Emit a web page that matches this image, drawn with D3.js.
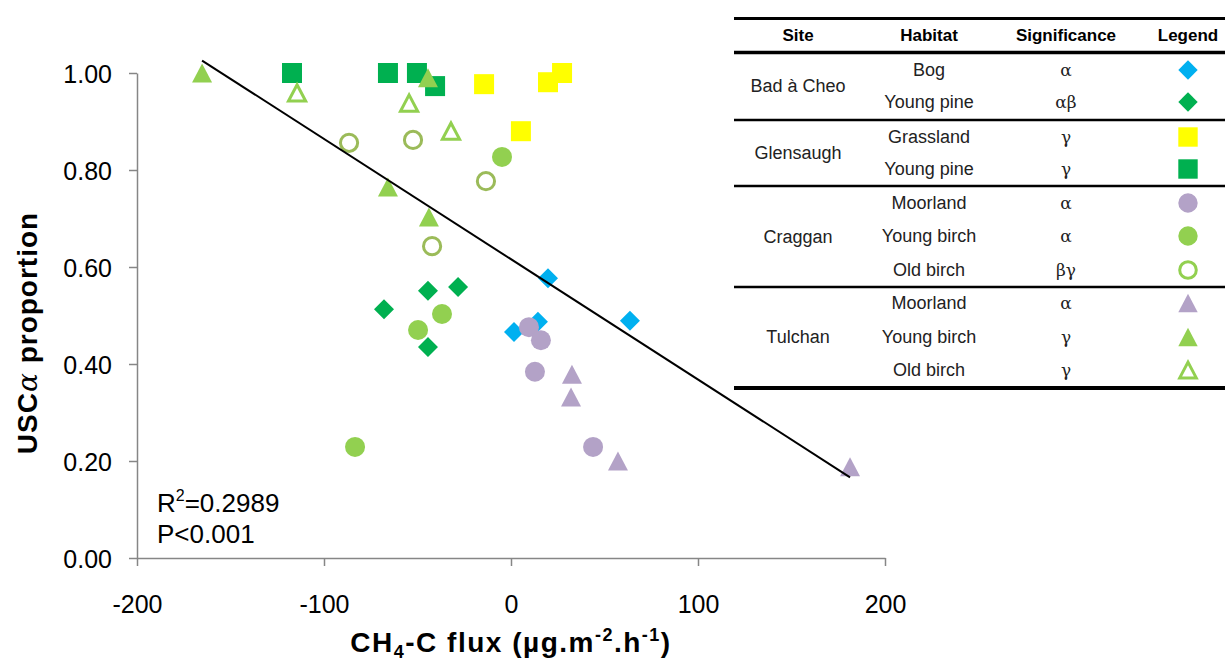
<!DOCTYPE html>
<html>
<head>
<meta charset="utf-8">
<script src="https://cdn.jsdelivr.net/npm/d3@7"></script>
<style>
  html, body { margin: 0; padding: 0; background: #fff; }
  svg { display: block; font-family: "Liberation Sans", Arial, sans-serif; }
</style>
</head>
<body>
<svg id="chart" width="1225" height="662"></svg>
<script>
// ---- Data: CH4-C flux (x) vs USCα proportion (y), per site / habitat ----
const bogFlux        = [19.8, 63.6, 14.4, 1.6];
const bogUsc         = [0.577, 0.489, 0.487, 0.466];
const bacPineFlux    = [-67.9, -44.4, -28.3, -44.4];
const bacPineUsc     = [0.513, 0.551, 0.559, 0.435];
const grassFlux      = [-14.4, 19.8, 27.3, 5.3];
const grassUsc       = [0.977, 0.981, 1.0, 0.880];
const glenPineFlux   = [-117.1, -65.8, -50.3, -40.6];
const glenPineUsc    = [1.0, 1.0, 1.0, 0.973];
const cragMoorFlux   = [9.6, 16.0, 12.8, 43.9];
const cragMoorUsc    = [0.476, 0.449, 0.384, 0.229];
const cragYoungFlux  = [-36.9, -49.7, -83.4, -4.8];
const cragYoungUsc   = [0.503, 0.470, 0.229, 0.827];
const cragOldFlux    = [-86.6, -52.4, -13.4, -42.2];
const cragOldUsc     = [0.856, 0.862, 0.777, 0.643];
const tulMoorFlux    = [32.6, 32.1, 57.2, 181.3];
const tulMoorUsc     = [0.379, 0.332, 0.200, 0.188];
const tulYoungFlux   = [-165.2, -65.8, -43.9, -44.4];
const tulYoungUsc    = [1.0, 0.765, 0.703, 0.990];
const tulOldFlux     = [-114.4, -54.5, -32.1];
const tulOldUsc      = [0.959, 0.938, 0.880];

const siteNames      = ["Bad à Cheo", "Glensaugh", "Craggan", "Tulchan"];
const habitatNames   = ["Bog", "Young pine", "Grassland", "Young pine", "Moorland", "Young birch", "Old birch", "Moorland", "Young birch", "Old birch"];
const significance   = ["α", "αβ", "γ", "γ", "α", "α", "βγ", "α", "γ", "γ"];
const siteOfSeries   = [0, 0, 1, 1, 2, 2, 2, 3, 3, 3];

const xTicks = [-200, -100, 0, 100, 200];
const yTicks = [0, 0.2, 0.4, 0.6, 0.8, 1.0];

// linear fit across all points
const trendSlope = -0.00248;
const trendIntercept = 0.616;
const statLines = ["R²=0.2989", "P<0.001"];

// ---- Marker shapes (d3.symbol custom types; size = half-width in px) ----
const shapeDiamond = { draw(c, r) { c.moveTo(0, -r); c.lineTo(r, 0); c.lineTo(0, r); c.lineTo(-r, 0); c.closePath(); } };
const shapeSquare  = { draw(c, r) { c.rect(-r, -r, 2 * r, 2 * r); } };
const shapeCircle  = { draw(c, r) { c.moveTo(r, 0); c.arc(0, 0, r, 0, 2 * Math.PI); } };
const shapeTriangle = { draw(c, r) { c.moveTo(0, -r * 0.95); c.lineTo(r, r * 0.95); c.lineTo(-r, r * 0.95); c.closePath(); } };

const series = [
  { flux: bogFlux,       usc: bogUsc,       shape: shapeDiamond,  color: "#00B0F0", open: false },
  { flux: bacPineFlux,   usc: bacPineUsc,   shape: shapeDiamond,  color: "#00B050", open: false },
  { flux: grassFlux,     usc: grassUsc,     shape: shapeSquare,   color: "#FFFF00", open: false },
  { flux: glenPineFlux,  usc: glenPineUsc,  shape: shapeSquare,   color: "#00B050", open: false },
  { flux: cragMoorFlux,  usc: cragMoorUsc,  shape: shapeCircle,   color: "#B3A2C7", open: false },
  { flux: cragYoungFlux, usc: cragYoungUsc, shape: shapeCircle,   color: "#92D050", open: false },
  { flux: cragOldFlux,   usc: cragOldUsc,   shape: shapeCircle,   color: "#9BBB59", legendColor: "#92D050", open: true },
  { flux: tulMoorFlux,   usc: tulMoorUsc,   shape: shapeTriangle, color: "#B3A2C7", open: false },
  { flux: tulYoungFlux,  usc: tulYoungUsc,  shape: shapeTriangle, color: "#92D050", open: false },
  { flux: tulOldFlux,    usc: tulOldUsc,    shape: shapeTriangle, color: "#92D050", open: true }
];

const svg = d3.select("#chart");

// ---- Scales ----
const x = d3.scaleLinear().domain([-200, 200]).range([137, 885]);
const y = d3.scaleLinear().domain([0, 1]).range([558, 73]);

const axisColor = "#868686";

// ---- Axes ----
const gx = svg.append("g").attr("transform", `translate(0,${y(0)})`)
  .call(d3.axisBottom(x).tickValues(xTicks).tickSize(8).tickSizeOuter(0).tickPadding(29).tickFormat(d => String(d)));
const gy = svg.append("g").attr("transform", `translate(${x(-200)},0)`)
  .call(d3.axisLeft(y).tickValues(yTicks).tickSize(8).tickSizeOuter(0).tickPadding(17).tickFormat(d3.format(".2f")));

[gx, gy].forEach(g => {
  g.select(".domain").attr("stroke", axisColor).attr("stroke-width", 1.5);
  g.selectAll(".tick line").attr("stroke", axisColor).attr("stroke-width", 1.5);
  g.selectAll(".tick text").attr("fill", "#000").style("font-size", "25px")
    .style("font-family", "'Liberation Sans', Arial, sans-serif");
});
gx.selectAll(".tick text").attr("dy", "0.71em");
gy.selectAll(".tick text").attr("dy", "0.36em");

// ---- Points ----
const sym = d3.symbol();
series.forEach(s => {
  const pts = s.flux.map((f, i) => [f, s.usc[i]]);
  svg.append("g").selectAll("path").data(pts).join("path")
    .attr("transform", d => `translate(${x(d[0])},${y(d[1])})`)
    .attr("d", sym.type(s.shape).size(s.open ? 8.6 : 10)())
    .attr("fill", s.open ? "none" : s.color)
    .attr("stroke", s.open ? s.color : "none")
    .attr("stroke-width", s.open ? 3 : 0);
});

// ---- Trend line over the flux range ----
const allFlux = series.flatMap(s => s.flux);
const fluxRange = d3.extent(allFlux);
svg.append("path")
  .datum(fluxRange.map(f => [f, trendIntercept + trendSlope * f]))
  .attr("d", d3.line().x(d => x(d[0])).y(d => y(d[1])))
  .attr("stroke", "#000").attr("stroke-width", 2).attr("fill", "none");

// ---- Fit statistics ----
const stat = svg.append("g").style("font-size", "26px").attr("fill", "#000");
const r2 = stat.append("text").attr("x", 157).attr("y", 512);
r2.append("tspan").text("R");
r2.append("tspan").text("2").attr("dy", -11).style("font-size", "16px");
r2.append("tspan").text(statLines[0].slice(2)).attr("dy", 11);
stat.append("text").attr("x", 157).attr("y", 543).text(statLines[1]);

// ---- Axis titles ----
const xt = svg.append("text").attr("x", 511).attr("y", 652).attr("text-anchor", "middle")
  .style("font-size", "28px").style("font-weight", "bold").style("letter-spacing", "1.5px");
xt.append("tspan").text("CH");
xt.append("tspan").text("4").attr("dy", 6).style("font-size", "18px");
xt.append("tspan").text("-C flux (µg.m").attr("dy", -6);
xt.append("tspan").text("-2").attr("dy", -11).style("font-size", "18px");
xt.append("tspan").text(".h").attr("dy", 11);
xt.append("tspan").text("-1").attr("dy", -11).style("font-size", "18px");
xt.append("tspan").text(")").attr("dy", 11);

const yt = svg.append("text").attr("transform", "translate(37,333) rotate(-90)").attr("text-anchor", "middle")
  .style("font-size", "28px").style("font-weight", "bold").style("letter-spacing", "1px");
yt.append("tspan").text("USC");
yt.append("tspan").text("α").style("font-family", "'DejaVu Serif', serif").style("font-style", "italic").style("font-weight", "normal");
yt.append("tspan").text(" proportion");

// ---- Legend table ----
const tbl = svg.append("g");
const colX = [798, 929, 1066, 1188];
const headers = ["Site", "Habitat", "Significance", "Legend"];
const rowY = [70, 102, 137, 169, 203, 236, 270, 303, 337, 370];
const tblLeft = 734, tblRight = 1225;

tbl.selectAll("text.hdr").data(headers).join("text")
  .attr("class", "hdr").attr("x", (d, i) => colX[i]).attr("y", 35).attr("dy", "0.36em")
  .attr("text-anchor", "middle").style("font-size", "17px").style("font-weight", "bold").text(d => d);

// horizontal rules: top, header, between sites, bottom
const rules = [{ y: 18.5, w: 3 }, { y: 52.5, w: 3.5 }, { y: 120, w: 2.5 }, { y: 186, w: 2.5 }, { y: 287, w: 2.5 }, { y: 388, w: 4 }];
tbl.selectAll("line.rule").data(rules).join("line")
  .attr("class", "rule").attr("x1", tblLeft).attr("x2", tblRight)
  .attr("y1", d => d.y).attr("y2", d => d.y).attr("stroke", "#000").attr("stroke-width", d => d.w);

// site names centred on their rows
tbl.selectAll("text.site").data(siteNames).join("text")
  .attr("class", "site").attr("x", colX[0])
  .attr("y", (d, i) => d3.mean(rowY.filter((r, k) => siteOfSeries[k] === i)))
  .attr("dy", "0.36em").attr("text-anchor", "middle").style("font-size", "18px").attr("fill", "#222").text(d => d);

tbl.selectAll("text.hab").data(habitatNames).join("text")
  .attr("class", "hab").attr("x", colX[1]).attr("y", (d, i) => rowY[i])
  .attr("dy", "0.36em").attr("text-anchor", "middle").style("font-size", "18px").attr("fill", "#222").text(d => d);

tbl.selectAll("text.sig").data(significance).join("text")
  .attr("class", "sig").attr("x", colX[2]).attr("y", (d, i) => rowY[i])
  .attr("dy", "0.36em").attr("text-anchor", "middle").style("font-size", "17px")
  .style("font-family", "'DejaVu Serif', 'Liberation Serif', serif").attr("fill", "#222").text(d => d);

tbl.selectAll("path.key").data(series).join("path")
  .attr("class", "key")
  .attr("transform", (d, i) => `translate(${colX[3]},${rowY[i]})`)
  .attr("d", d => sym.type(d.shape).size(d.open ? 8.3 : 9.7)())
  .attr("fill", d => d.open ? "none" : (d.legendColor || d.color))
  .attr("stroke", d => d.open ? (d.legendColor || d.color) : "none")
  .attr("stroke-width", d => d.open ? 3 : 0);
</script>
</body>
</html>
